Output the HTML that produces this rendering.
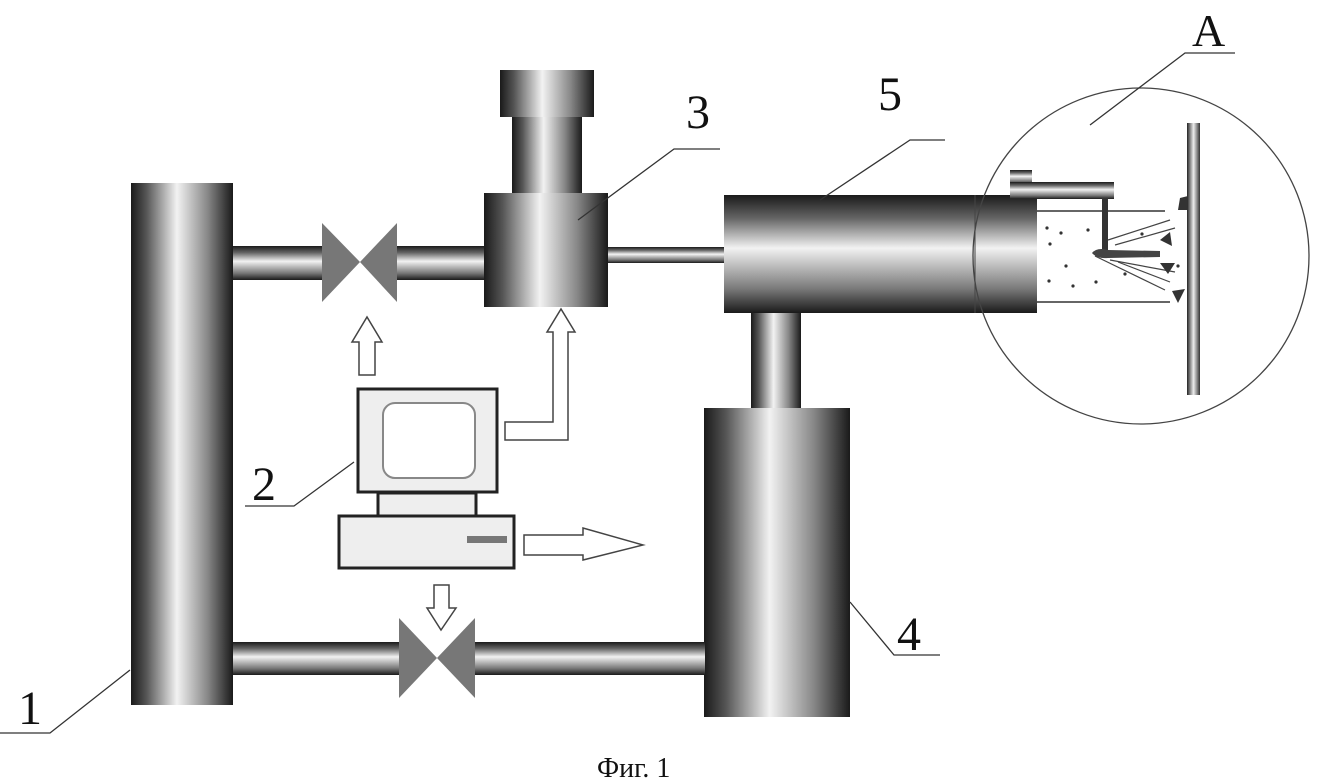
<!DOCTYPE html>
<html><head><meta charset="utf-8"><style>
html,body{margin:0;padding:0;background:#fff;}
svg{display:block;}
text{font-family:"Liberation Serif",serif;fill:#111;}
</style></head><body>
<svg width="1321" height="783" viewBox="0 0 1321 783" xmlns="http://www.w3.org/2000/svg">
<defs>
<linearGradient id="gv" x1="0" y1="0" x2="1" y2="0">
<stop offset="0" stop-color="#1a1a1a"/><stop offset="0.15" stop-color="#555"/><stop offset="0.45" stop-color="#f2f2f2"/><stop offset="0.75" stop-color="#888"/><stop offset="1" stop-color="#1a1a1a"/>
</linearGradient>
<linearGradient id="gh" x1="0" y1="0" x2="0" y2="1">
<stop offset="0" stop-color="#1a1a1a"/><stop offset="0.2" stop-color="#666"/><stop offset="0.45" stop-color="#f2f2f2"/><stop offset="0.8" stop-color="#777"/><stop offset="1" stop-color="#1a1a1a"/>
</linearGradient>
<linearGradient id="gp" x1="0" y1="0" x2="1" y2="0">
<stop offset="0" stop-color="#222"/><stop offset="0.5" stop-color="#eee"/><stop offset="1" stop-color="#333"/>
</linearGradient>
</defs>

<!-- column 1 -->
<rect x="131" y="183" width="102" height="522" fill="url(#gv)"/>
<!-- top pipe -->
<rect x="233" y="246" width="92" height="34" fill="url(#gh)"/>
<rect x="396" y="246" width="90" height="34" fill="url(#gh)"/>
<polygon points="322,223 360,262 322,302" fill="#777"/>
<polygon points="397,223 360,262 397,302" fill="#777"/>
<!-- element 3 -->
<rect x="500" y="70" width="94" height="47" fill="url(#gv)"/>
<rect x="512" y="117" width="70" height="77" fill="url(#gv)"/>
<rect x="484" y="193" width="124" height="114" fill="url(#gv)"/>
<!-- thin pipe -->
<rect x="608" y="247" width="118" height="16" fill="url(#gh)"/>
<!-- element 5 -->
<rect x="724" y="195" width="313" height="118" fill="url(#gh)"/>
<line x1="975" y1="195" x2="975" y2="313" stroke="#444" stroke-width="1"/>
<!-- vertical pipe 5-4 -->
<rect x="751" y="313" width="50" height="96" fill="url(#gv)"/>
<!-- element 4 -->
<rect x="704" y="408" width="146" height="309" fill="url(#gv)"/>
<!-- bottom pipe -->
<rect x="233" y="642" width="168" height="33" fill="url(#gh)"/>
<rect x="474" y="642" width="231" height="33" fill="url(#gh)"/>
<polygon points="399,618 437,658 399,698" fill="#777"/>
<polygon points="475,618 437,658 475,698" fill="#777"/>

<!-- circle A detail -->
<circle cx="1141" cy="256" r="168" fill="none" stroke="#444" stroke-width="1.3"/>
<rect x="1037" y="211" width="170" height="92" fill="#fff"/>
<line x1="1037" y1="211" x2="1165" y2="211" stroke="#333" stroke-width="1.5"/>
<line x1="1037" y1="302" x2="1170" y2="302" stroke="#333" stroke-width="1.5"/>
<rect x="1010" y="170" width="22" height="14" fill="url(#gh)"/>
<rect x="1010" y="182" width="104" height="17" fill="url(#gh)"/>
<rect x="1102" y="198" width="6" height="52" fill="#333"/>
<path d="M1092,253 Q1097,247 1108,250 L1160,251 L1160,257 L1108,258 Q1097,259 1092,253 Z" fill="#444"/>
<g stroke="#444" stroke-width="1.2" fill="none">
<line x1="1108" y1="240" x2="1170" y2="220"/>
<line x1="1115" y1="245" x2="1175" y2="228"/>
<line x1="1095" y1="256" x2="1165" y2="290"/>
<line x1="1110" y1="260" x2="1175" y2="272"/>
<line x1="1118" y1="262" x2="1170" y2="282"/>
</g>
<g fill="#333">
<polygon points="1180,198 1188,196 1188,210 1178,210"/>
<polygon points="1160,240 1170,232 1172,246"/>
<polygon points="1160,263 1175,263 1168,274"/>
<polygon points="1172,291 1185,289 1178,303"/>
<circle cx="1047" cy="228" r="1.6"/><circle cx="1061" cy="233" r="1.6"/><circle cx="1088" cy="230" r="1.6"/>
<circle cx="1050" cy="244" r="1.6"/><circle cx="1066" cy="266" r="1.6"/><circle cx="1049" cy="281" r="1.6"/>
<circle cx="1073" cy="286" r="1.6"/><circle cx="1096" cy="282" r="1.6"/><circle cx="1125" cy="274" r="1.6"/>
<circle cx="1142" cy="234" r="1.6"/><circle cx="1178" cy="266" r="1.6"/>
</g>
<rect x="1187" y="123" width="13" height="272" fill="url(#gp)"/>

<!-- computer -->
<rect x="358" y="389" width="139" height="103" fill="#eee" stroke="#222" stroke-width="3"/>
<rect x="383" y="403" width="92" height="75" rx="12" fill="#fff" stroke="#888" stroke-width="2"/>
<rect x="378" y="493" width="98" height="23" fill="#eee" stroke="#222" stroke-width="3"/>
<rect x="339" y="516" width="175" height="52" fill="#eee" stroke="#222" stroke-width="3"/>
<rect x="467" y="536" width="40" height="7" fill="#777"/>

<!-- arrows -->
<g fill="#fff" stroke="#444" stroke-width="1.5">
<polygon points="359,375 375,375 375,342 382,342 367,317 352,342 359,342"/>
<polygon points="505,422 553,422 553,332 547,332 561,309 575,332 568,332 568,440 505,440"/>
<polygon points="524,535 583,535 583,528 643,545 583,560 583,555 524,555"/>
<polygon points="434,585 449,585 449,608 456,608 441,630 427,608 434,608"/>
</g>

<!-- labels & leaders -->
<g stroke="#333" stroke-width="1.3" fill="none">
<polyline points="0,733 50,733 130,670"/>
<polyline points="245,506 294,506 354,462"/>
<polyline points="720,149 674,149 578,220"/>
<polyline points="945,140 910,140 820,200"/>
<polyline points="940,655 894,655 850,602"/>
<polyline points="1235,53 1185,53 1090,125"/>
</g>
<text x="18" y="724" font-size="48">1</text>
<text x="252" y="500" font-size="48">2</text>
<text x="686" y="128" font-size="48">3</text>
<text x="897" y="650" font-size="48">4</text>
<text x="878" y="110" font-size="48">5</text>
<text x="1192" y="46" font-size="46">A</text>
<text x="597" y="777" font-size="28">Фиг. 1</text>
</svg>
</body></html>
